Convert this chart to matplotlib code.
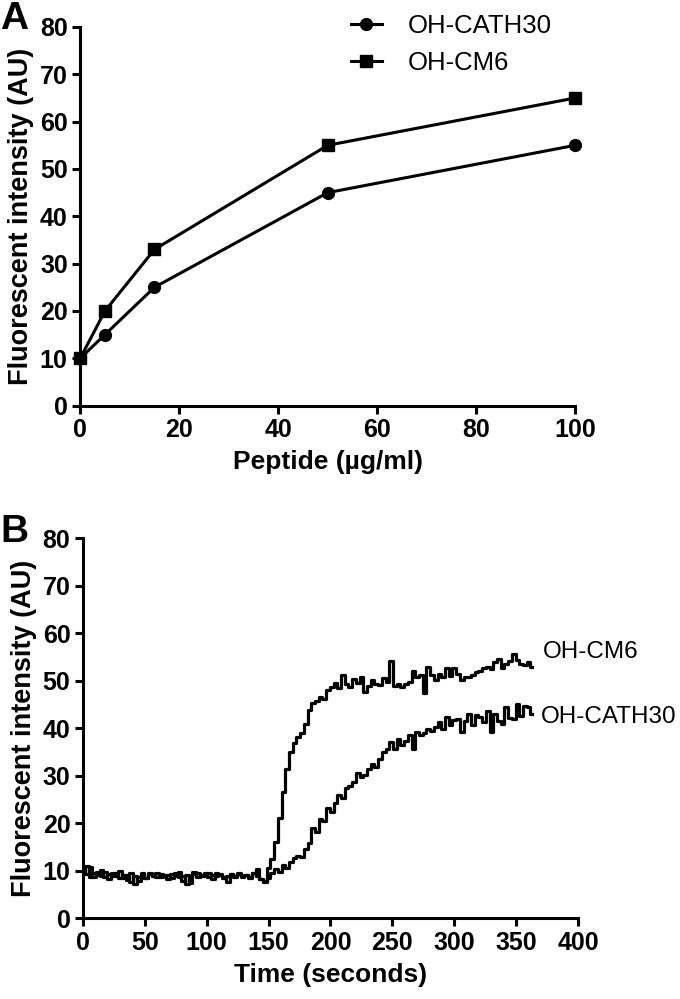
import numpy as np
import matplotlib
matplotlib.use('Agg')
import matplotlib.pyplot as plt

plt.rcParams['font.family'] = ['Liberation Sans', 'DejaVu Sans']

# Panel A - dose response
peptide = [0, 5, 15, 50, 100]
cath30_a = [10, 15, 25, 45, 55]
cm6_a = [10, 20, 33, 55, 65]

# Panel B - time course, sampled every 3 s (0..363 s)
time_b = np.arange(0, 366, 3)
cm6_b = [10.5, 9.2, 10.8, 8.6, 9.7, 8.9, 9.8, 8.3, 9.5, 8.8,
         9.9, 8.4, 9.1, 7.6, 8.9, 7.9, 9.6, 8.5, 9.2, 8.8,
         9.4, 8.7, 9.0, 8.2, 9.3, 8.9, 9.7, 7.8, 9.0, 7.4,
         9.8, 8.6, 9.1, 8.9, 9.6, 8.3, 9.4, 9.0, 8.7, 7.5,
         9.3, 8.9, 9.2, 8.6, 9.0, 8.5, 9.4, 10.4, 8.3, 7.6,
         10.5, 12.5, 16, 21, 26.5, 31.5, 35, 37, 38.2, 39,
         41, 43.8, 45.3, 45.8, 46.5, 46.2, 48, 48.6, 49.5, 48.4,
         51.2, 49.3, 48.7, 50.4, 49.6, 50.8, 47.6, 48.9, 50.2, 49.3,
         49.1, 50.5, 49.7, 54.2, 49, 49.4, 48.6, 49.3, 49.8, 52,
         50.9, 51.3, 47.4, 52.9, 51.2, 50.1, 51.5, 50.8, 52.6, 51.1,
         52.6, 51.4, 50.1, 50.7, 50.8, 51.2, 51.8, 52.1, 52.6, 53,
         52.4, 53.9, 54.6, 52.6, 53.5, 54.2, 55.7, 54.3, 53.6, 53.3,
         54, 53]
cath30_b = [9.8, 10.9, 8.7, 9.5, 9.0, 10.2, 8.6, 9.3, 8.8, 9.6,
            8.5, 9.0, 8.1, 9.4, 7.2, 8.6, 9.0, 8.4, 9.5, 8.9,
            8.6, 9.3, 8.8, 9.1, 8.4, 9.6, 8.7, 8.9, 7.2, 8.5,
            9.2, 9.6, 8.8, 9.4, 8.6, 9.1, 8.9, 9.3, 8.4, 8.8,
            9.2, 8.7, 9.5, 8.9, 9.1, 8.6, 9.6, 8.8, 8.2, 7.9,
            8.4, 9.6, 10.4, 9.8, 11.2, 10.6, 11.8, 12.6, 13.1, 12.8,
            14.5, 15.8, 19, 18.2, 20.9, 20.4, 23.1, 22.4, 24.3, 25.9,
            25.4, 27.5, 27.9, 28.6, 30.6, 29.8, 30.2, 31.5, 32.4, 31.8,
            33.6, 35, 35.7, 37.1, 35.7, 37.8, 36.4, 37.3, 38.5, 35.7,
            39.2, 38.5, 38.9, 39.9, 39.5, 40.2, 41.3, 39.9, 42.3, 40.6,
            41.8, 42, 39.2, 41.5, 43, 40.6, 42.9, 42.3, 41.3, 43.7,
            39.2, 43, 41.5, 40.9, 44.4, 42.2, 42, 45.1, 42.6, 44.6,
            44.4, 43]

fig = plt.figure(figsize=(6.8, 9.99), dpi=100)
axA = fig.add_axes([0.118, 0.594, 0.728, 0.379])
axB = fig.add_axes([0.122, 0.081, 0.728, 0.380])


def style(ax):
    for s in ['top', 'right']:
        ax.spines[s].set_visible(False)
    for s in ['left', 'bottom']:
        ax.spines[s].set_linewidth(2.2)
    ax.tick_params(width=2.2, length=6, labelsize=18, pad=3)
    for lab in ax.get_xticklabels() + ax.get_yticklabels():
        lab.set_fontweight('bold')
    ax.set_ylim(0, 80)
    ax.set_yticks(range(0, 81, 10))
    ax.set_ylabel('Fluorescent intensity (AU)', fontsize=19.5, fontweight='bold', labelpad=4)


axA.plot(peptide, cath30_a, color='black', lw=2.2, marker='o', ms=8.5, label='OH-CATH30', clip_on=False, zorder=3)
axA.plot(peptide, cm6_a, color='black', lw=2.2, marker='s', ms=9, label='OH-CM6', clip_on=False, zorder=3)
axA.set_xlim(0, 100)
axA.set_xticks(range(0, 101, 20))
style(axA)
axA.set_xlabel('Peptide (\u00b5g/ml)', fontsize=19, fontweight='bold', labelpad=6)
axA.legend(loc='upper left', bbox_to_anchor=(0.5, 1.095), frameon=False, fontsize=18.5,
           handlelength=1.2, handletextpad=1.0, labelspacing=0.5)

axB.plot(time_b, cm6_b, color='black', lw=2.3, drawstyle='steps-mid')
axB.plot(time_b, cath30_b, color='black', lw=2.3, drawstyle='steps-mid')
axB.set_xlim(0, 400)
axB.set_xticks(range(0, 401, 50))
style(axB)
axB.set_xlabel('Time (seconds)', fontsize=19, fontweight='bold', labelpad=6)
axB.text(372, 56, 'OH-CM6', fontsize=17.5, va='center', ha='left', clip_on=False)
axB.text(370, 42.3, 'OH-CATH30', fontsize=17.5, va='center', ha='left', clip_on=False)

fig.text(0.0, 0.999, 'A', fontsize=28, fontweight='bold', va='top', ha='left')
fig.text(0.0, 0.485, 'B', fontsize=28, fontweight='bold', va='top', ha='left')

fig.savefig('out.png', dpi=100)
